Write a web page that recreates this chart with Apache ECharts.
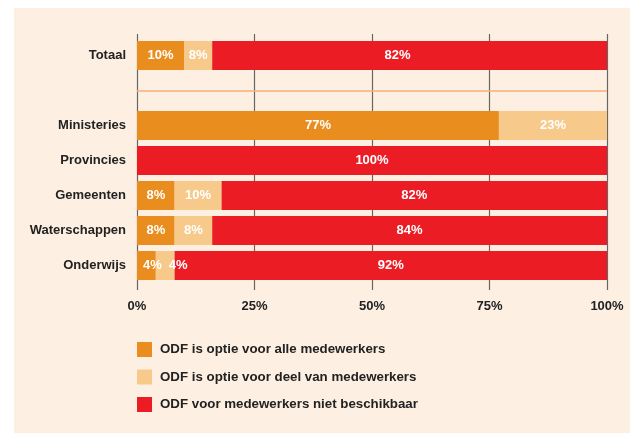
<!DOCTYPE html>
<html>
<head>
<meta charset="utf-8">
<script src="https://cdn.jsdelivr.net/npm/echarts@6/dist/echarts.min.js"></script>
<style>
  html, body { margin: 0; padding: 0; background: #fff; }
  #chart { width: 630px; height: 433px; }
</style>
</head>
<body>
<div id="chart"></div>
<script>
    // categories, index 1 is the empty row with the separator line
    var categories = ['Totaal', '', 'Ministeries', 'Provincies', 'Gemeenten', 'Waterschappen', 'Onderwijs'];

    // bar lengths as drawn (percent)
    var alleData = [10, null, 77, 0, 8, 8, 4];
    var deelData = [6, null, 23, 0, 10, 8, 4];
    var nietData = [84, null, 0, 100, 82, 84, 92];

    // labels as printed in the bars
    var alleLabels = ['10%', '', '77%', '', '8%', '8%', '4%'];
    var deelLabels = ['8%', '', '23%', '', '10%', '8%', '4%'];
    var nietLabels = ['82%', '', '', '100%', '82%', '84%', '92%'];

    var seriesNames = [
        'ODF is optie voor alle medewerkers',
        'ODF is optie voor deel van medewerkers',
        'ODF voor medewerkers niet beschikbaar'
    ];
    var xTicks = ['0%', '25%', '50%', '75%', '100%'];

    var colors = ['#E98D1E', '#F7C98B', '#EC1C24'];
    var font = 'Liberation Sans, Arial, sans-serif';

    // small horizontal nudges of some labels, per series index
    var labelShift = {
        'Totaal': [0, 0, -12],
        'Onderwijs': [6, 13, 0]
    };

    function buildData(values, labels, s) {
        var out = [];
        for (var i = 0; i < values.length; i++) {
            var v = values[i];
            if (v === null) { out.push('-'); continue; }
            var shift = labelShift[categories[i]] ? labelShift[categories[i]][s] : 0;
            out.push({
                value: v,
                label: { show: labels[i] !== '', formatter: labels[i], offset: [shift, 0] }
            });
        }
        return out;
    }

    var allValues = [alleData, deelData, nietData];
    var allLabels = [alleLabels, deelLabels, nietLabels];

    var series = [];
    for (var s = 0; s < 3; s++) {
        var ser = {
            name: seriesNames[s],
            type: 'bar',
            stack: 'total',
            barWidth: 29,
            itemStyle: { color: colors[s] },
            label: {
                show: true,
                position: 'inside',
                color: '#fff',
                fontFamily: font,
                fontWeight: 'bold',
                fontSize: 13
            },
            data: buildData(allValues[s], allLabels[s], s)
        };
        if (s === 0) {
            ser.markLine = {
                silent: true,
                symbol: 'none',
                label: { show: false },
                lineStyle: { color: '#F4B07A', width: 1.5, type: 'solid' },
                data: [{ yAxis: 1 }]
            };
        }
        series.push(ser);
    }

    var myChart = echarts.init(document.getElementById('chart'));
    var option = {
        animation: false,
        graphic: [{
            type: 'rect',
            z: -10,
            silent: true,
            shape: { x: 14, y: 8, width: 616, height: 425 },
            style: { fill: '#FDF0E2' }
        }],
        grid: { left: 137, right: 23, top: 38, height: 245 },
        xAxis: [{
            type: 'value',
            min: 0,
            max: 100,
            interval: 25,
            position: 'bottom',
            axisLine: { show: false },
            axisTick: { show: true, length: 7, lineStyle: { color: '#666', width: 1.2 } },
            splitLine: { show: true, lineStyle: { color: '#666', width: 1.2 } },
            axisLabel: {
                margin: 17,
                color: '#222',
                fontFamily: font,
                fontWeight: 'bold',
                fontSize: 13,
                formatter: function (v) { return xTicks[v / 25]; }
            }
        }, {
            type: 'value',
            min: 0,
            max: 100,
            interval: 25,
            position: 'top',
            axisLine: { show: false },
            axisTick: { show: true, length: 4, lineStyle: { color: '#666', width: 1.2 } },
            splitLine: { show: false },
            axisLabel: { show: false }
        }],
        yAxis: {
            type: 'category',
            inverse: true,
            data: categories,
            axisLine: { show: false },
            axisTick: { show: false },
            axisLabel: {
                margin: 11,
                color: '#222',
                fontFamily: font,
                fontWeight: 'bold',
                fontSize: 13
            }
        },
        legend: {
            orient: 'vertical',
            left: 132,
            top: 337,
            icon: 'rect',
            itemWidth: 15,
            itemHeight: 15,
            itemGap: 12.5,
            textStyle: {
                color: '#222',
                fontFamily: font,
                fontWeight: 'bold',
                fontSize: 13.3,
                padding: [0, 0, 0, 3]
            },
            data: seriesNames
        },
        series: series
    };
    myChart.setOption(option, true);
</script>
</body>
</html>
